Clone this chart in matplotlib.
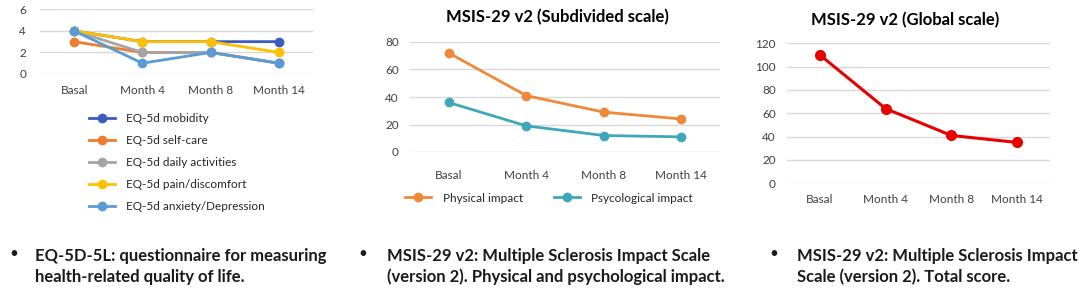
import matplotlib
matplotlib.use("Agg")
from matplotlib import pyplot as plt

# data
months = ["Basal", "Month 4", "Month 8", "Month 14"]

eq_labels = ["EQ-5d mobidity", "EQ-5d self-care", "EQ-5d daily activities",
             "EQ-5d pain/discomfort", "EQ-5d anxiety/Depression"]
eq_mobility = [4, 3, 3, 3]
eq_selfcare = [3, 2, 2, 1]
eq_daily = [4, 2, 2, 1]
eq_pain = [4, 3, 3, 2]
eq_anxiety = [4, 1, 2, 1]
eq_colors = ["#3A5CC2", "#ED7D31", "#A5A5A5", "#FFC000", "#5B9BD5"]

physical = [72, 41, 29, 24]
psycological = [36, 19, 12, 11]

global_score = [110, 64, 41, 35]

notes = [
    "EQ-5D-5L: questionnaire for measuring\nhealth-related quality of life.",
    "MSIS-29 v2: Multiple Sclerosis Impact Scale\n(version 2). Physical and psychological impact.",
    "MSIS-29 v2: Multiple Sclerosis Impact\nScale (version 2). Total score.",
]

W, H = 1084, 292
plt.rcParams["font.family"] = ["Lato", "DejaVu Sans"]


#turns pixel box into figure coords
def box(x0, y0, x1, y1):
    return [x0 / W, 1 - y1 / H, (x1 - x0) / W, (y1 - y0) / H]


def style(ax, ymax, step):
    ax.set_xlim(-0.5, 3.5)
    ax.set_ylim(0, ymax)
    ax.set_yticks(range(0, ymax + 1, step))
    ax.set_xticks(range(4))
    ax.set_xticklabels(months)
    for s in ax.spines.values():
        s.set_visible(False)
    ax.grid(axis="y", color="#D9D9D9", linewidth=1)
    ax.set_axisbelow(True)
    ax.tick_params(length=0, labelsize=8.5, colors="#404040", pad=8)


fig = plt.figure(figsize=(W / 100, H / 100), dpi=100)

# panel 1 - EQ-5d
ax1 = fig.add_axes(box(40, 9.3, 313, 74))
style(ax1, 6, 2)
ax1.tick_params(axis="y", pad=10)
for vals, lab, c in zip([eq_mobility, eq_selfcare, eq_daily, eq_pain, eq_anxiety], eq_labels, eq_colors):
    ax1.plot(range(4), vals, color=c, lw=2, marker="o", ms=6, label=lab, clip_on=False)
ax1.legend(loc="upper left", bbox_to_anchor=(89 / W, 1 - 113 / H), bbox_transform=fig.transFigure,
           frameon=False, fontsize=8.5, labelspacing=0.93, handlelength=2.2, handletextpad=0.9,
           borderpad=0, borderaxespad=0, labelcolor="#262626")

# panel 2 - subdivided scale
ax2 = fig.add_axes(box(410, 42, 720, 152))
style(ax2, 80, 20)
ax2.tick_params(axis="x", pad=13)
ax2.plot(range(4), physical, color="#F0883A", lw=2, marker="o", ms=6, label="Physical impact", clip_on=False)
ax2.plot(range(4), psycological, color="#3EA8BA", lw=2, marker="o", ms=6, label="Psycological impact", clip_on=False)
ax2.set_title("MSIS-29 v2 (Subdivided scale)", fontsize=12, fontweight="bold", pad=14, x=0.474)
ax2.legend(loc="center left", bbox_to_anchor=(405 / W, 1 - 198 / H), bbox_transform=fig.transFigure,
           ncol=2, frameon=False, fontsize=8.5, handlelength=2.2, handletextpad=1.0, columnspacing=2.6,
           borderpad=0, borderaxespad=0, labelcolor="#262626")

# panel 3 - global scale
ax3 = fig.add_axes(box(787, 43.3, 1050, 183.3))
style(ax3, 120, 20)
ax3.plot(range(4), global_score, color="#E60000", lw=2.2, marker="o", ms=7, clip_on=False)
ax3.set_title("MSIS-29 v2 (Global scale)", fontsize=12, fontweight="bold", pad=13, x=0.449)

# bullet notes at the bottom
for bx, tx, txt in zip([9, 358, 769], [35, 387, 797], notes):
    fig.text(bx / W, 1 - 254 / H, "\u2022", fontsize=11, va="center", ha="left", color="#1a1a1a")
    for i, line in enumerate(txt.split("\n")):
        fig.text(tx / W, 1 - (261 + 21 * i) / H, line, fontsize=12, fontweight="bold",
                 va="baseline", ha="left", color="#1a1a1a")

fig.savefig("out.png", dpi=100)
